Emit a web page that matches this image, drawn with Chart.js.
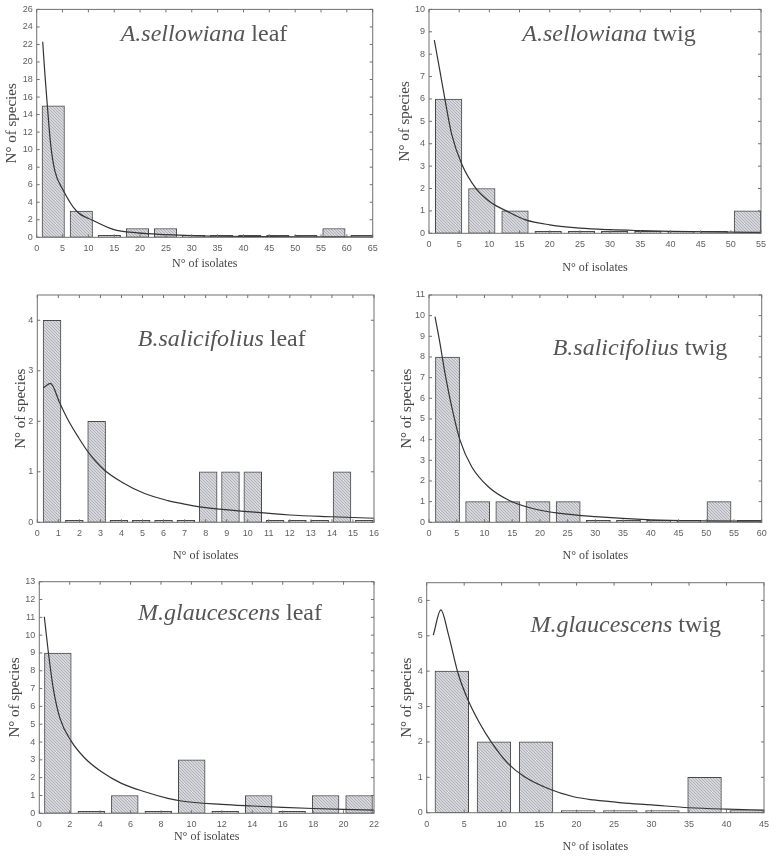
<!DOCTYPE html>
<html>
<head>
<meta charset="utf-8">
<script src="https://cdn.jsdelivr.net/npm/chart.js@4.4.1/dist/chart.umd.min.js"></script>
<style>
  body { margin: 0; background: #fff; width: 775px; height: 856px; position: relative; overflow: hidden; }
  canvas { position: absolute; }
</style>
</head>
<body>
<canvas id="asLeaf"></canvas>
<canvas id="asTwig"></canvas>
<canvas id="bsLeaf"></canvas>
<canvas id="bsTwig"></canvas>
<canvas id="mgLeaf"></canvas>
<canvas id="mgTwig"></canvas>
<script>
// ─── A.sellowiana leaf ─────────────────────────────────────────────────────────
const asLeafBins   = [3.2, 8.63, 14.06, 19.49, 24.92, 30.35, 35.78, 41.21, 46.64, 52.07, 57.5, 62.93];
const asLeafCounts = [15, 3, 0, 1, 1, 0, 0, 0, 0, 0, 1, 0];
const asLeafFitX   = [1.16, 1.6, 2.06, 2.7, 3.5, 5.15, 7.7, 10.8, 14.8, 19.5, 25, 30, 35, 45, 55, 65];
const asLeafFitY   = [22.3, 18.5, 15.0, 10.6, 7.6, 5.35, 3.0, 1.95, 0.9, 0.5, 0.3, 0.18, 0.12, 0.07, 0.05, 0.03];
const asLeafXTicks = [0, 5, 10, 15, 20, 25, 30, 35, 40, 45, 50, 55, 60, 65];
const asLeafYTicks = [0, 2, 4, 6, 8, 10, 12, 14, 16, 18, 20, 22, 24, 26];

// ─── A.sellowiana twig ─────────────────────────────────────────────────────────
const asTwigBins   = [3.25, 8.75, 14.25, 19.75, 25.25, 30.75, 36.25, 41.75, 47.25, 52.75];
const asTwigCounts = [6, 2, 1, 0, 0, 0, 0, 0, 0, 1];
const asTwigFitX   = [0.88, 1.82, 2.65, 3.76, 5.42, 7.8, 10.4, 12.8, 16, 20, 25, 30, 35, 40, 50, 55];
const asTwigFitY   = [8.63, 7.23, 5.97, 4.42, 3.1, 2.0, 1.35, 1.0, 0.6, 0.38, 0.23, 0.16, 0.12, 0.09, 0.05, 0.04];
const asTwigXTicks = [0, 5, 10, 15, 20, 25, 30, 35, 40, 45, 50, 55];
const asTwigYTicks = [0, 1, 2, 3, 4, 5, 6, 7, 8, 9, 10];

// ─── B.salicifolius leaf ───────────────────────────────────────────────────────
const bsLeafBins   = [0.7, 1.76, 2.82, 3.88, 4.94, 6.0, 7.06, 8.12, 9.18, 10.24, 11.3, 12.36, 13.42, 14.48, 15.54];
const bsLeafCounts = [4, 0, 2, 0, 0, 0, 0, 1, 1, 1, 0, 0, 0, 1, 0];
const bsLeafFitX   = [0.28, 0.62, 1.08, 1.47, 1.94, 2.42, 3.2, 4.0, 5.1, 6.2, 7.0, 8.0, 10.0, 12.0, 14.0, 16.0];
const bsLeafFitY   = [2.66, 2.75, 2.35, 2.02, 1.69, 1.39, 1.03, 0.8, 0.57, 0.43, 0.36, 0.29, 0.21, 0.145, 0.11, 0.08];
const bsLeafXTicks = [0, 1, 2, 3, 4, 5, 6, 7, 8, 9, 10, 11, 12, 13, 14, 15, 16];
const bsLeafYTicks = [0, 1, 2, 3, 4];

// ─── B.salicifolius twig ───────────────────────────────────────────────────────
const bsTwigBins   = [3.34, 8.78, 14.22, 19.66, 25.1, 30.54, 35.98, 41.42, 46.86, 52.3, 57.74];
const bsTwigCounts = [8, 1, 1, 1, 1, 0, 0, 0, 0, 1, 0];
const bsTwigFitX   = [1.08, 1.98, 2.89, 4.09, 5.59, 7.7, 10.7, 14.3, 18.5, 23.3, 30, 40, 50, 60];
const bsTwigFitY   = [9.95, 8.66, 7.21, 5.6, 3.98, 2.69, 1.72, 1.08, 0.68, 0.44, 0.27, 0.12, 0.07, 0.05];
const bsTwigXTicks = [0, 5, 10, 15, 20, 25, 30, 35, 40, 45, 50, 55, 60];
const bsTwigYTicks = [0, 1, 2, 3, 4, 5, 6, 7, 8, 9, 10, 11];

// ─── M.glaucescens leaf ────────────────────────────────────────────────────────
const mgLeafBins   = [1.22, 3.42, 5.62, 7.82, 10.02, 12.22, 14.42, 16.62, 18.82, 21.02];
const mgLeafCounts = [9, 0, 1, 0, 3, 0, 1, 0, 1, 1];
const mgLeafFitX   = [0.33, 0.59, 0.92, 1.36, 2.12, 3.0, 4.09, 5.4, 6.93, 8.45, 9.33, 12, 14, 16, 18, 20, 22];
const mgLeafFitY   = [11.03, 9.07, 7.0, 5.33, 4.02, 3.09, 2.33, 1.68, 1.21, 0.84, 0.69, 0.5, 0.41, 0.33, 0.27, 0.22, 0.18];
const mgLeafXTicks = [0, 2, 4, 6, 8, 10, 12, 14, 16, 18, 20, 22];
const mgLeafYTicks = [0, 1, 2, 3, 4, 5, 6, 7, 8, 9, 10, 11, 12, 13];

// ─── M.glaucescens twig ────────────────────────────────────────────────────────
const mgTwigBins   = [3.35, 8.97, 14.59, 20.21, 25.83, 31.45, 37.07, 42.69];
const mgTwigCounts = [4, 2, 2, 0, 0, 0, 1, 0];
const mgTwigFitX   = [0.88, 1.89, 2.86, 4.18, 5.5, 6.83, 8.6, 10.8, 13.0, 16.1, 19.6, 22.3, 26, 30, 35, 40, 45];
const mgTwigFitY   = [5.02, 5.73, 5.07, 3.94, 3.19, 2.62, 2.0, 1.4, 1.02, 0.69, 0.45, 0.36, 0.28, 0.22, 0.14, 0.1, 0.075];
const mgTwigXTicks = [0, 5, 10, 15, 20, 25, 30, 35, 40, 45];
const mgTwigYTicks = [0, 1, 2, 3, 4, 5, 6];

// ─── Panel layout (canvas box and plot area, page pixels) ─────────────────────
const panels = [
  { id: "asLeaf", species: "A.sellowiana", organ: " leaf", bins: asLeafBins, counts: asLeafCounts, fitX: asLeafFitX, fitY: asLeafFitY,
    xTicks: asLeafXTicks, yTicks: asLeafYTicks, xMax: 65, yMax: 26,
    box: [0, 0, 385, 280], area: [36.7, 7.3, 372.7, 237.3], label: [204, 40.7], xTitlePad: 8.5, yTitlePad: 3 },
  { id: "asTwig", species: "A.sellowiana", organ: " twig", bins: asTwigBins, counts: asTwigCounts, fitX: asTwigFitX, fitY: asTwigFitY,
    xTicks: asTwigXTicks, yTicks: asTwigYTicks, xMax: 55, yMax: 10,
    box: [385, 0, 390, 280], area: [429, 7.3, 761, 233.3], label: [609, 40.7], xTitlePad: 5, yTitlePad: 11 },
  { id: "bsLeaf", species: "B.salicifolius", organ: " leaf", bins: bsLeafBins, counts: bsLeafCounts, fitX: bsLeafFitX, fitY: bsLeafFitY,
    xTicks: bsLeafXTicks, yTicks: bsLeafYTicks, xMax: 16, yMax: 4.5,
    box: [0, 280, 385, 290], area: [37.3, 295, 375, 522.3], label: [221.7, 346], xTitlePad: 7, yTitlePad: 12 },
  { id: "bsTwig", species: "B.salicifolius", organ: " twig", bins: bsTwigBins, counts: bsTwigCounts, fitX: bsTwigFitX, fitY: bsTwigFitY,
    xTicks: bsTwigXTicks, yTicks: bsTwigYTicks, xMax: 60, yMax: 11,
    box: [385, 280, 390, 290], area: [429, 295, 761.7, 522.3], label: [640, 354.5], xTitlePad: 7, yTitlePad: 12.7 },
  { id: "mgLeaf", species: "M.glaucescens", organ: " leaf", bins: mgLeafBins, counts: mgLeafCounts, fitX: mgLeafFitX, fitY: mgLeafFitY,
    xTicks: mgLeafXTicks, yTicks: mgLeafYTicks, xMax: 22, yMax: 13,
    box: [0, 570, 385, 286], area: [39.3, 581.7, 375, 813.3], label: [230, 620], xTitlePad: 11.5, yTitlePad: 6 },
  { id: "mgTwig", species: "M.glaucescens", organ: " twig", bins: mgTwigBins, counts: mgTwigCounts, fitX: mgTwigFitX, fitY: mgTwigFitY,
    xTicks: mgTwigXTicks, yTicks: mgTwigYTicks, xMax: 45, yMax: 6.5,
    box: [385, 570, 390, 286], area: [426.7, 582.7, 766.7, 812.7], label: [625.7, 631.5], xTitlePad: 1.5, yTitlePad: 12.7 }
];

// hatched grey fill for the histogram bars
function makeHatch() {
  const c = document.createElement("canvas");
  c.width = 3; c.height = 3;
  const g = c.getContext("2d");
  g.fillStyle = "#d6d7dc";
  g.fillRect(0, 0, 3, 3);
  g.strokeStyle = "#abacb2";
  g.lineWidth = 0.9;
  g.beginPath();
  g.moveTo(0, 0); g.lineTo(3, 3);
  g.moveTo(-1, 2); g.lineTo(1, 4);
  g.moveTo(2, -1); g.lineTo(4, 1);
  g.stroke();
  return g.createPattern(c, "repeat");
}
const hatch = makeHatch();

const serif = "'Liberation Serif', 'Times New Roman', serif";
const sans = "'Liberation Sans', Arial, sans-serif";

// box round the plot area, with small inward ticks on all four sides
const framePlugin = {
  id: "frame",
  afterDatasetsDraw(chart) {
    const { ctx, chartArea: a, scales: { x, y } } = chart;
    ctx.save();
    ctx.strokeStyle = "#707070";
    ctx.lineWidth = 1;
    ctx.strokeRect(a.left, a.top, a.right - a.left, a.bottom - a.top);
    ctx.beginPath();
    x.ticks.forEach(t => {
      const px = x.getPixelForValue(t.value);
      ctx.moveTo(px, a.bottom); ctx.lineTo(px, a.bottom - 3);
      ctx.moveTo(px, a.top); ctx.lineTo(px, a.top + 3);
    });
    y.ticks.forEach(t => {
      const py = y.getPixelForValue(t.value);
      ctx.moveTo(a.left, py); ctx.lineTo(a.left + 3, py);
      ctx.moveTo(a.right, py); ctx.lineTo(a.right - 3, py);
    });
    ctx.stroke();
    ctx.restore();
  }
};

// species name (italic) + organ inside the plot
const insetPlugin = {
  id: "inset",
  afterDraw(chart, args, opts) {
    const ctx = chart.ctx;
    ctx.save();
    ctx.fillStyle = "#555";
    ctx.textBaseline = "alphabetic";
    ctx.font = "italic 24px " + serif;
    const w1 = ctx.measureText(opts.italic).width;
    ctx.font = "24px " + serif;
    const w2 = ctx.measureText(opts.plain).width;
    const x0 = opts.x - (w1 + w2) / 2;
    ctx.font = "italic 24px " + serif;
    ctx.fillText(opts.italic, x0, opts.y);
    ctx.font = "24px " + serif;
    ctx.fillText(opts.plain, x0 + w1, opts.y);
    ctx.restore();
  }
};

function makeChart(p) {
  const cv = document.getElementById(p.id);
  const [bx, by, bw, bh] = p.box;
  cv.width = bw; cv.height = bh;
  cv.style.left = bx + "px"; cv.style.top = by + "px";
  const left = p.area[0] - bx, top = p.area[1] - by;
  const right = p.area[2] - bx, bottom = p.area[3] - by;

  new Chart(cv, {
    type: "bar",
    data: {
      datasets: [
        {
          type: "line",
          data: p.fitX.map((x, i) => ({ x, y: p.fitY[i] })),
          borderColor: "#333",
          borderWidth: 1.2,
          pointRadius: 0,
          cubicInterpolationMode: "monotone",
          fill: false,
          order: 0
        },
        {
          type: "bar",
          data: p.bins.map((x, i) => ({ x, y: p.counts[i] })),
          backgroundColor: hatch,
          borderColor: "#484848",
          borderWidth: 1,
          borderSkipped: false,
          minBarLength: 2,
          barThickness: "flex",
          categoryPercentage: 0.8,
          barPercentage: 1,
          order: 1
        }
      ]
    },
    options: {
      responsive: false,
      animation: false,
      devicePixelRatio: 1,
      layout: { padding: { left: 0, top: top, right: bw - right, bottom: 0 } },
      plugins: {
        legend: { display: false },
        tooltip: { enabled: false },
        inset: { italic: p.species, plain: p.organ, x: p.label[0] - bx, y: p.label[1] - by }
      },
      scales: {
        x: {
          type: "linear",
          min: 0,
          max: p.xMax,
          offset: false,
          grid: { display: false, drawTicks: false },
          border: { display: false },
          afterBuildTicks: s => { s.ticks = p.xTicks.map(v => ({ value: v })); },
          afterFit: s => { s.height = bh - bottom; },
          ticks: {
            autoSkip: false, maxRotation: 0, padding: 6, color: "#5e5e5e",
            font: { family: sans, size: 9 }
          },
          title: {
            display: true, text: "N° of isolates", color: "#444",
            font: { family: serif, size: 12 },
            padding: { top: 0, bottom: p.xTitlePad }
          }
        },
        y: {
          min: 0,
          max: p.yMax,
          grid: { display: false, drawTicks: false },
          border: { display: false },
          afterBuildTicks: s => { s.ticks = p.yTicks.map(v => ({ value: v })); },
          afterFit: s => { s.width = left; },
          ticks: {
            autoSkip: false, padding: 4, color: "#5e5e5e",
            font: { family: sans, size: 9 }
          },
          title: {
            display: true, text: "N° of species", color: "#444",
            font: { family: serif, size: 15 },
            padding: { top: p.yTitlePad, bottom: 0 }
          }
        }
      }
    },
    plugins: [framePlugin, insetPlugin]
  });
}

panels.forEach(makeChart);
</script>
</body>
</html>
